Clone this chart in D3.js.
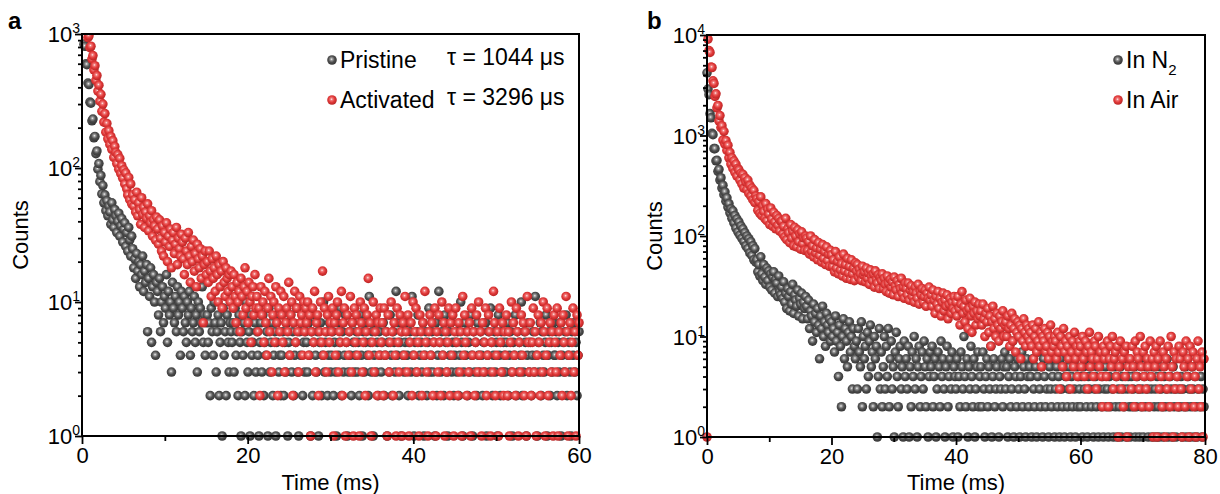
<!DOCTYPE html>
<html>
<head>
<meta charset="utf-8">
<script src="https://cdn.jsdelivr.net/npm/d3@7"></script>
<style>
  body { margin: 0; background: #fff; }
  svg { font-family: "Liberation Sans", Arial, sans-serif; }
</style>
</head>
<body>
<div id="chart"></div>
<script>
// ---- panel a : counts per time channel (first channel at 0.12 ms, step 0.12 ms) ----
var startA = 0.12, stepA = 0.12;
var pristine = [
  1120, 840, 810, 600, 590, 430, 420, 310, 305, 225, 232, 168, 172, 128, 134, 98, 108, 79, 88, 64, 74, 55, 63, 48, 57,
  44, 52, 47, 38, 55, 41, 36, 49, 44, 33, 40, 46, 31, 37, 42, 28, 35, 39, 26, 33, 24, 36, 29, 22, 31,
  25, 18, 21, 15, 23, 17, 20, 13, 19, 16, 22, 12, 17, 14, 19, 6, 15, 11, 18, 5, 13, 16, 10, 4, 14,
  12, 8, 15, 6, 10, 13, 7, 11, 9, 16, 5, 12, 8, 10, 3, 14, 9, 7, 11, 6, 13, 8, 10, 4, 12,
  9, 6, 11, 7, 5, 10, 8, 12, 4, 9, 6, 7, 11, 5, 8, 3, 10, 6, 9, 7, 13, 5, 8, 4, 7,
  8, 5, 7, 2, 9, 6, 4, 10, 7, 3, 6, 8, 2, 5, 7, 1, 9, 4, 6, 2, 8, 5, 3, 7, 6,
  5, 7, 3, 9, 4, 6, 2, 8, 5, 1, 6, 4, 7, 2, 10, 5, 3, 6, 1, 8, 4, 5, 2, 7, 3,
  6, 4, 1, 5, 7, 3, 8, 2, 5, 4, 6, 1, 9, 3, 5, 7, 2, 4, 6, 1, 5, 8, 3, 4, 2,
  4, 6, 2, 5, 3, 7, 1, 5, 4, 8, 3, 6, 2, 4, 5, 9, 3, 1, 6, 4, 7, 2, 5, 3, 6,
  5, 3, 7, 4, 1, 6, 2, 5, 8, 4, 3, 6, 1, 5, 7, 2, 4, 10, 3, 5, 6, 2, 4, 7, 3,
  4, 6, 2, 5, 3, 1, 7, 4, 5, 9, 2, 6, 3, 4, 8, 5, 1, 3, 6, 4, 2, 7, 5, 3, 4,
  6, 3, 5, 2, 8, 4, 1, 6, 3, 5, 7, 4, 2, 11, 5, 3, 6, 1, 4, 7, 3, 5, 2, 6, 4,
  3, 5, 7, 2, 4, 6, 1, 5, 3, 8, 4, 2, 6, 5, 3, 12, 4, 7, 2, 5, 1, 6, 4, 3, 5,
  7, 4, 2, 5, 6, 3, 11, 4, 1, 5, 3, 6, 8, 2, 4, 5, 3, 7, 1, 4, 6, 2, 5, 9, 3,
  4, 6, 3, 5, 1, 7, 2, 4, 12, 5, 3, 6, 4, 2, 8, 5, 3, 1, 6, 4, 7, 3, 5, 2, 4,
  5, 3, 6, 2, 4, 10, 5, 1, 3, 7, 4, 6, 2, 5, 3, 8, 4, 1, 6, 3, 5, 2, 7, 4, 3,
  6, 4, 2, 5, 3, 7, 1, 4, 6, 3, 9, 5, 2, 4, 6, 3, 5, 1, 8, 4, 2, 6, 3, 5, 4,
  3, 5, 7, 2, 4, 6, 3, 1, 5, 4, 8, 2, 6, 3, 5, 4, 10, 2, 3, 6, 5, 1, 4, 7, 3,
  5, 2, 4, 6, 3, 11, 4, 1, 5, 3, 7, 2, 6, 4, 3, 5, 8, 1, 4, 6, 2, 5, 3, 7, 4,
  4, 6, 2, 5, 3, 7, 1, 4, 5, 3, 6, 8, 2, 4, 5, 3, 1, 6, 4, 7, 3, 5, 2, 4, 6
];
var activated = [
  1650, 1380, 1390, 1150, 1160, 940, 970, 790, 810, 650, 690, 540, 580, 450, 490, 375, 415, 315, 355, 265, 300, 220, 255, 185, 215,
  165, 190, 150, 172, 138, 160, 120, 145, 131, 108, 126, 98, 118, 91, 104, 84, 97, 76, 92, 70, 63, 85, 58, 76, 54,
  63, 52, 58, 47, 66, 44, 55, 49, 38, 60, 45, 51, 36, 47, 42, 54, 34, 44, 39, 48, 31, 41, 37, 29, 43,
  35, 27, 41, 30, 24, 37, 22, 33, 28, 39, 20, 31, 26, 35, 18, 29, 33, 23, 27, 36, 19, 30, 25, 22, 32,
  28, 21, 16, 30, 24, 19, 33, 22, 14, 26, 20, 29, 17, 23, 13, 27, 21, 18, 25, 15, 22, 7, 19, 24, 16,
  20, 14, 24, 17, 11, 21, 15, 18, 12, 22, 16, 10, 19, 13, 17, 9, 20, 14, 11, 18, 15, 12, 16, 10, 17,
  13, 9, 16, 11, 7, 14, 10, 12, 6, 15, 11, 8, 13, 18, 9, 12, 7, 14, 10, 5, 11, 13, 8, 16, 9,
  11, 6, 9, 2, 13, 8, 10, 5, 12, 7, 4, 9, 15, 6, 11, 3, 8, 10, 5, 13, 7, 2, 9, 6, 12,
  8, 5, 11, 3, 7, 9, 6, 14, 4, 8, 10, 2, 7, 12, 5, 9, 6, 3, 11, 7, 8, 4, 10, 6, 9,
  7, 10, 4, 8, 1, 6, 9, 5, 12, 3, 7, 8, 2, 6, 10, 5, 17, 4, 9, 6, 3, 8, 11, 5, 7,
  6, 9, 1, 7, 4, 8, 10, 3, 6, 5, 12, 2, 7, 9, 1, 5, 8, 4, 6, 11, 3, 7, 1, 9, 5,
  8, 4, 6, 1, 10, 7, 3, 5, 9, 2, 6, 8, 15, 4, 7, 1, 5, 10, 3, 6, 8, 2, 7, 4, 9,
  5, 7, 2, 9, 4, 6, 1, 8, 3, 5, 10, 6, 2, 7, 4, 1, 9, 5, 3, 8, 6, 1, 7, 4, 11,
  6, 3, 8, 1, 5, 7, 2, 10, 4, 6, 9, 3, 5, 1, 8, 6, 2, 7, 4, 12, 5, 3, 1, 6, 8,
  4, 7, 2, 5, 9, 1, 6, 3, 8, 5, 2, 10, 4, 7, 1, 6, 3, 5, 9, 2, 7, 4, 8, 1, 6,
  9, 5, 2, 7, 3, 6, 1, 11, 4, 8, 5, 2, 6, 3, 7, 1, 9, 4, 6, 2, 5, 8, 3, 10, 4,
  6, 1, 7, 3, 5, 9, 2, 4, 8, 6, 1, 5, 3, 12, 7, 2, 4, 6, 1, 9, 5, 3, 7, 2, 6,
  4, 8, 2, 6, 1, 5, 10, 3, 7, 4, 2, 9, 6, 1, 5, 3, 8, 4, 7, 2, 6, 1, 11, 5, 3,
  7, 2, 5, 9, 3, 6, 1, 4, 8, 5, 2, 7, 3, 10, 6, 1, 4, 9, 2, 5, 7, 3, 6, 1, 8,
  5, 3, 9, 1, 6, 4, 7, 2, 8, 5, 3, 11, 6, 1, 4, 7, 2, 5, 9, 3, 6, 1, 8, 4, 7
];

// ---- panel b : counts per time channel (first channel at 0 ms, step 0.16 ms) ----
var startB = 0, stepB = 0.16;
var inN2 = [
  4200, 2900, 2550, 1650, 1500, 1050, 1020, 740, 740, 560, 565, 440, 460, 360, 380, 300, 320, 258, 275, 222, 240, 194, 210, 170, 186,
  150, 178, 135, 160, 120, 148, 110, 138, 102, 126, 95, 118, 88, 108, 80, 100, 75, 94, 68, 88, 64, 80, 58, 75, 55,
  58, 44, 52, 40, 62, 42, 36, 52, 39, 33, 48, 36, 45, 31, 42, 29, 39, 44, 27, 37, 34, 25, 40, 28, 26,
  31, 24, 35, 22, 27, 19, 30, 25, 18, 28, 21, 33, 17, 26, 23, 20, 29, 16, 24, 21, 27, 15, 22, 19, 25,
  20, 15, 23, 12, 18, 16, 9, 21, 14, 17, 11, 19, 13, 6, 16, 12, 20, 10, 14, 8, 17, 13, 11, 15, 9,
  14, 10, 12, 7, 16, 9, 11, 4, 13, 8, 2, 10, 15, 6, 12, 9, 5, 11, 14, 7, 10, 3, 12, 8, 6,
  9, 3, 12, 7, 5, 14, 2, 10, 6, 8, 3, 11, 4, 9, 13, 5, 7, 2, 10, 6, 8, 1, 4, 12, 3,
  7, 2, 5, 10, 3, 8, 4, 12, 2, 6, 9, 3, 5, 1, 7, 11, 4, 2, 6, 8, 3, 5, 1, 9, 4,
  6, 3, 8, 1, 5, 2, 7, 4, 10, 3, 6, 1, 5, 8, 2, 4, 7, 3, 9, 5, 2, 6, 1, 4, 7,
  5, 8, 2, 4, 6, 1, 3, 7, 5, 2, 9, 4, 6, 3, 1, 5, 8, 2, 4, 6, 3, 7, 1, 5, 4,
  3, 6, 1, 4, 2, 7, 5, 3, 10, 4, 2, 6, 1, 5, 3, 8, 4, 2, 6, 1, 3, 5, 7, 2, 4,
  5, 2, 7, 3, 1, 4, 6, 2, 5, 3, 8, 1, 4, 6, 2, 3, 5, 11, 1, 4, 3, 6, 2, 5, 7,
  3, 5, 1, 4, 6, 2, 3, 9, 1, 5, 4, 2, 6, 3, 1, 4, 7, 2, 5, 3, 1, 6, 4, 2, 5,
  4, 1, 6, 3, 2, 5, 1, 4, 7, 3, 2, 5, 1, 6, 4, 2, 3, 8, 1, 5, 3, 2, 4, 6, 1,
  3, 5, 2, 4, 1, 6, 3, 2, 5, 1, 4, 7, 2, 3, 5, 1, 4, 2, 6, 3, 1, 5, 2, 4, 3,
  2, 4, 1, 5, 3, 6, 2, 1, 4, 3, 5, 2, 7, 1, 3, 4, 2, 5, 1, 3, 6, 2, 4, 1, 3,
  5, 2, 3, 1, 4, 2, 6, 3, 1, 5, 2, 4, 1, 3, 2, 5, 1, 4, 3, 2, 6, 1, 3, 4, 2,
  1, 4, 2, 3, 5, 1, 2, 4, 3, 1, 6, 2, 3, 1, 4, 2, 5, 3, 1, 2, 4, 3, 1, 5, 2,
  3, 1, 4, 2, 1, 5, 3, 2, 1, 4, 2, 3, 6, 1, 2, 4, 3, 1, 5, 2, 3, 1, 4, 2, 3,
  2, 4, 1, 3, 2, 5, 1, 2, 4, 3, 1, 2, 5, 3, 1, 4, 2, 1, 3, 6, 2, 4, 1, 3, 2
];
var inAir = [
  1, 9100, 7000, 6700, 4800, 4750, 3500, 3300, 2450, 2600, 1880, 1990, 1400, 1580, 1200, 1250, 900, 1100, 820, 890, 710, 800, 600, 680, 520,
  600, 470, 560, 430, 520, 395, 470, 455, 360, 420, 330, 410, 300, 380, 345, 290, 360, 265, 320, 250, 300, 230, 285, 215, 250,
  235, 180, 220, 168, 245, 160, 200, 175, 150, 210, 142, 185, 165, 130, 190, 148, 125, 172, 138, 118, 160, 128, 150, 112, 140,
  140, 105, 125, 98, 150, 92, 118, 108, 86, 130, 95, 112, 80, 122, 100, 78, 115, 88, 105, 74, 110, 84, 96, 72, 100,
  95, 72, 88, 66, 100, 70, 80, 62, 92, 68, 76, 58, 86, 64, 74, 55, 82, 60, 70, 52, 78, 57, 66, 50, 72,
  65, 50, 58, 44, 70, 48, 56, 42, 62, 46, 53, 40, 66, 45, 52, 38, 60, 43, 50, 37, 58, 42, 48, 36, 54,
  45, 52, 39, 47, 42, 36, 50, 41, 44, 35, 48, 38, 43, 33, 46, 40, 36, 42, 31, 45, 37, 34, 41, 30, 39,
  36, 42, 30, 38, 33, 28, 40, 34, 27, 37, 31, 35, 26, 39, 32, 29, 36, 25, 33, 30, 38, 27, 31, 24, 34,
  30, 26, 34, 23, 29, 32, 25, 28, 22, 31, 27, 24, 33, 21, 28, 26, 30, 22, 25, 29, 20, 27, 24, 31, 23,
  26, 20, 29, 23, 17, 25, 21, 28, 19, 24, 16, 22, 27, 18, 23, 20, 26, 15, 21, 24, 17, 22, 19, 25, 18,
  22, 16, 25, 19, 13, 21, 28, 17, 20, 14, 23, 18, 12, 19, 24, 16, 11, 20, 17, 22, 13, 18, 15, 21, 16,
  18, 13, 21, 15, 10, 17, 14, 19, 11, 16, 8, 14, 20, 12, 15, 10, 17, 13, 9, 16, 12, 14, 18, 10, 13,
  14, 10, 16, 12, 8, 13, 17, 9, 12, 15, 7, 11, 14, 10, 13, 6, 12, 9, 15, 11, 8, 13, 10, 12, 9,
  11, 8, 13, 6, 10, 12, 7, 9, 14, 8, 11, 5, 10, 9, 12, 7, 8, 11, 6, 10, 13, 7, 9, 8, 10,
  9, 6, 11, 7, 3, 10, 8, 5, 12, 7, 9, 4, 8, 6, 10, 3, 7, 9, 5, 11, 6, 8, 4, 7, 9,
  8, 5, 10, 6, 4, 9, 7, 3, 8, 11, 5, 7, 6, 4, 9, 8, 3, 6, 10, 5, 7, 4, 2, 8, 6,
  7, 4, 9, 2, 6, 8, 5, 10, 3, 6, 7, 4, 8, 1, 5, 9, 3, 6, 2, 7, 4, 8, 1, 5, 6,
  6, 3, 8, 5, 2, 9, 4, 7, 6, 3, 10, 5, 2, 7, 4, 8, 3, 6, 5, 2, 9, 4, 6, 1, 7,
  5, 8, 1, 6, 3, 9, 4, 2, 7, 5, 1, 6, 3, 8, 4, 2, 10, 5, 1, 7, 3, 6, 4, 2, 8,
  6, 3, 1, 7, 5, 2, 9, 4, 6, 1, 8, 3, 5, 7, 2, 4, 1, 6, 9, 3, 5, 2, 7, 1, 6
];

// ticks
var xMajorA = [0, 20, 40, 60], xMinorA = [10, 30, 50];
var xMajorB = [0, 20, 40, 60, 80], xMinorB = [10, 30, 50, 70];
var decadesA = [1, 10, 100, 1000];
var decadesB = [1, 10, 100, 1000, 10000];

var svg = d3.select("#chart").append("svg")
    .attr("width", 1220)
    .attr("height", 494);

var defs = svg.append("defs");

// shaded ball markers
function ballGradient(id, stops) {
  var g = defs.append("radialGradient").attr("id", id)
      .attr("cx", "45%").attr("cy", "42%").attr("r", "58%");
  stops.forEach(function(s) {
    g.append("stop").attr("offset", s[0]).attr("stop-color", s[1]);
  });
}
ballGradient("ballGray", [["0%", "#f4f4f4"], ["22%", "#9a9a9a"], ["55%", "#505050"], ["100%", "#343434"]]);
ballGradient("ballRed", [["0%", "#fff0f0"], ["22%", "#f07a7a"], ["55%", "#e23a3a"], ["100%", "#b82424"]]);

function minorTicks(decades) {
  var out = [];
  for (var k = 0; k < decades.length - 1; k++) {
    for (var m = 2; m <= 9; m++) out.push(decades[k] * m);
  }
  return out;
}

function drawPanel(p) {
  var x = d3.scaleLinear().domain([0, p.xMax]).range([p.left, p.right]);
  var y = d3.scaleLog().domain([1, p.yMax]).range([p.bottom, p.top]);

  var clipId = "clip" + p.name;
  defs.append("clipPath").attr("id", clipId)
    .append("rect")
      .attr("x", p.left - 6).attr("y", p.top)
      .attr("width", p.right - p.left + 12)
      .attr("height", p.bottom - p.top + 6);

  var g = svg.append("g").attr("clip-path", "url(#" + clipId + ")");

  p.series.forEach(function(s) {
    var pts = s.values.map(function(v, i) {
      return { t: p.start + i * p.step, c: v };
    });
    g.selectAll(null)
      .data(pts)
      .enter().append("circle")
        .attr("cx", function(d) { return x(d.t); })
        .attr("cy", function(d) { return y(d.c); })
        .attr("r", 4.8)
        .attr("fill", "url(#" + s.grad + ")");
  });

  // x axis
  var xa = svg.append("g").attr("transform", "translate(0," + p.bottom + ")");
  xa.call(d3.axisBottom(x).tickValues(p.xMajor).tickSize(8).tickPadding(3));
  xa.append("g").call(d3.axisBottom(x).tickValues(p.xMinor).tickSize(5).tickFormat(""));
  // y axis
  var ya = svg.append("g").attr("transform", "translate(" + p.left + ",0)");
  ya.call(d3.axisLeft(y).tickValues(p.decades).tickSize(7).tickFormat(""));
  ya.append("g").call(d3.axisLeft(y).tickValues(minorTicks(p.decades)).tickSize(4).tickFormat(""));

  [xa, ya].forEach(function(a) {
    a.selectAll(".domain").remove();
    a.selectAll("line").attr("stroke", "#000").attr("stroke-width", 1.8);
    a.selectAll("text").attr("font-size", 22).attr("fill", "#000")
      .attr("font-family", "Liberation Sans, Arial, sans-serif");
  });

  // y labels 10^n
  p.decades.forEach(function(d) {
    var t = svg.append("text")
        .attr("x", p.left - 2)
        .attr("y", y(d) + 8)
        .attr("text-anchor", "end")
        .attr("font-size", 22);
    t.append("tspan").text("10");
    t.append("tspan").attr("font-size", 14).attr("dy", -9).text(Math.round(Math.log10(d)));
  });

  // frame
  svg.append("rect")
    .attr("x", p.left).attr("y", p.top)
    .attr("width", p.right - p.left).attr("height", p.bottom - p.top)
    .attr("fill", "none").attr("stroke", "#000").attr("stroke-width", 2);

  // titles
  svg.append("text")
    .attr("x", (p.left + p.right) / 2).attr("y", 490)
    .attr("text-anchor", "middle").attr("font-size", 22)
    .text("Time (ms)");
  svg.append("text")
    .attr("transform", "translate(" + p.countsX + "," + ((p.top + p.bottom) / 2) + ") rotate(-90)")
    .attr("text-anchor", "middle").attr("font-size", 22)
    .text("Counts");
  svg.append("text")
    .attr("x", p.letterX).attr("y", 29)
    .attr("font-size", 24).attr("font-weight", "bold")
    .text(p.name);

  // legend
  p.legend.forEach(function(l, i) {
    var ly = 60 + i * 40;
    svg.append("circle").attr("cx", l.x).attr("cy", ly).attr("r", 4.8)
      .attr("fill", "url(#" + l.grad + ")");
    var t = svg.append("text").attr("x", l.x + 8).attr("y", ly + 8).attr("font-size", 23);
    t.append("tspan").text(l.label);
    if (l.sub) t.append("tspan").attr("font-size", 15).attr("dy", 7).text(l.sub);
    if (l.tau) {
      svg.append("text").attr("x", l.tauX).attr("y", ly + 5).attr("font-size", 23).text(l.tau);
    }
  });
}

drawPanel({
  name: "a", letterX: 8, countsX: 28,
  left: 82, right: 579, top: 34, bottom: 436,
  xMax: 60, yMax: 1000, start: startA, step: stepA,
  xMajor: xMajorA, xMinor: xMinorA, decades: decadesA,
  series: [
    { values: pristine, grad: "ballGray" },
    { values: activated, grad: "ballRed" }
  ],
  legend: [
    { x: 332, label: "Pristine", grad: "ballGray", tau: "\u03c4 = 1044 \u03bcs", tauX: 447 },
    { x: 332, label: "Activated", grad: "ballRed", tau: "\u03c4 = 3296 \u03bcs", tauX: 447 }
  ]
});

drawPanel({
  name: "b", letterX: 647, countsX: 662,
  left: 707, right: 1205, top: 35, bottom: 437,
  xMax: 80, yMax: 10000, start: startB, step: stepB,
  xMajor: xMajorB, xMinor: xMinorB, decades: decadesB,
  series: [
    { values: inN2, grad: "ballGray" },
    { values: inAir, grad: "ballRed" }
  ],
  legend: [
    { x: 1118, label: "In N", sub: "2", grad: "ballGray" },
    { x: 1118, label: "In Air", grad: "ballRed" }
  ]
});
</script>
</body>
</html>
